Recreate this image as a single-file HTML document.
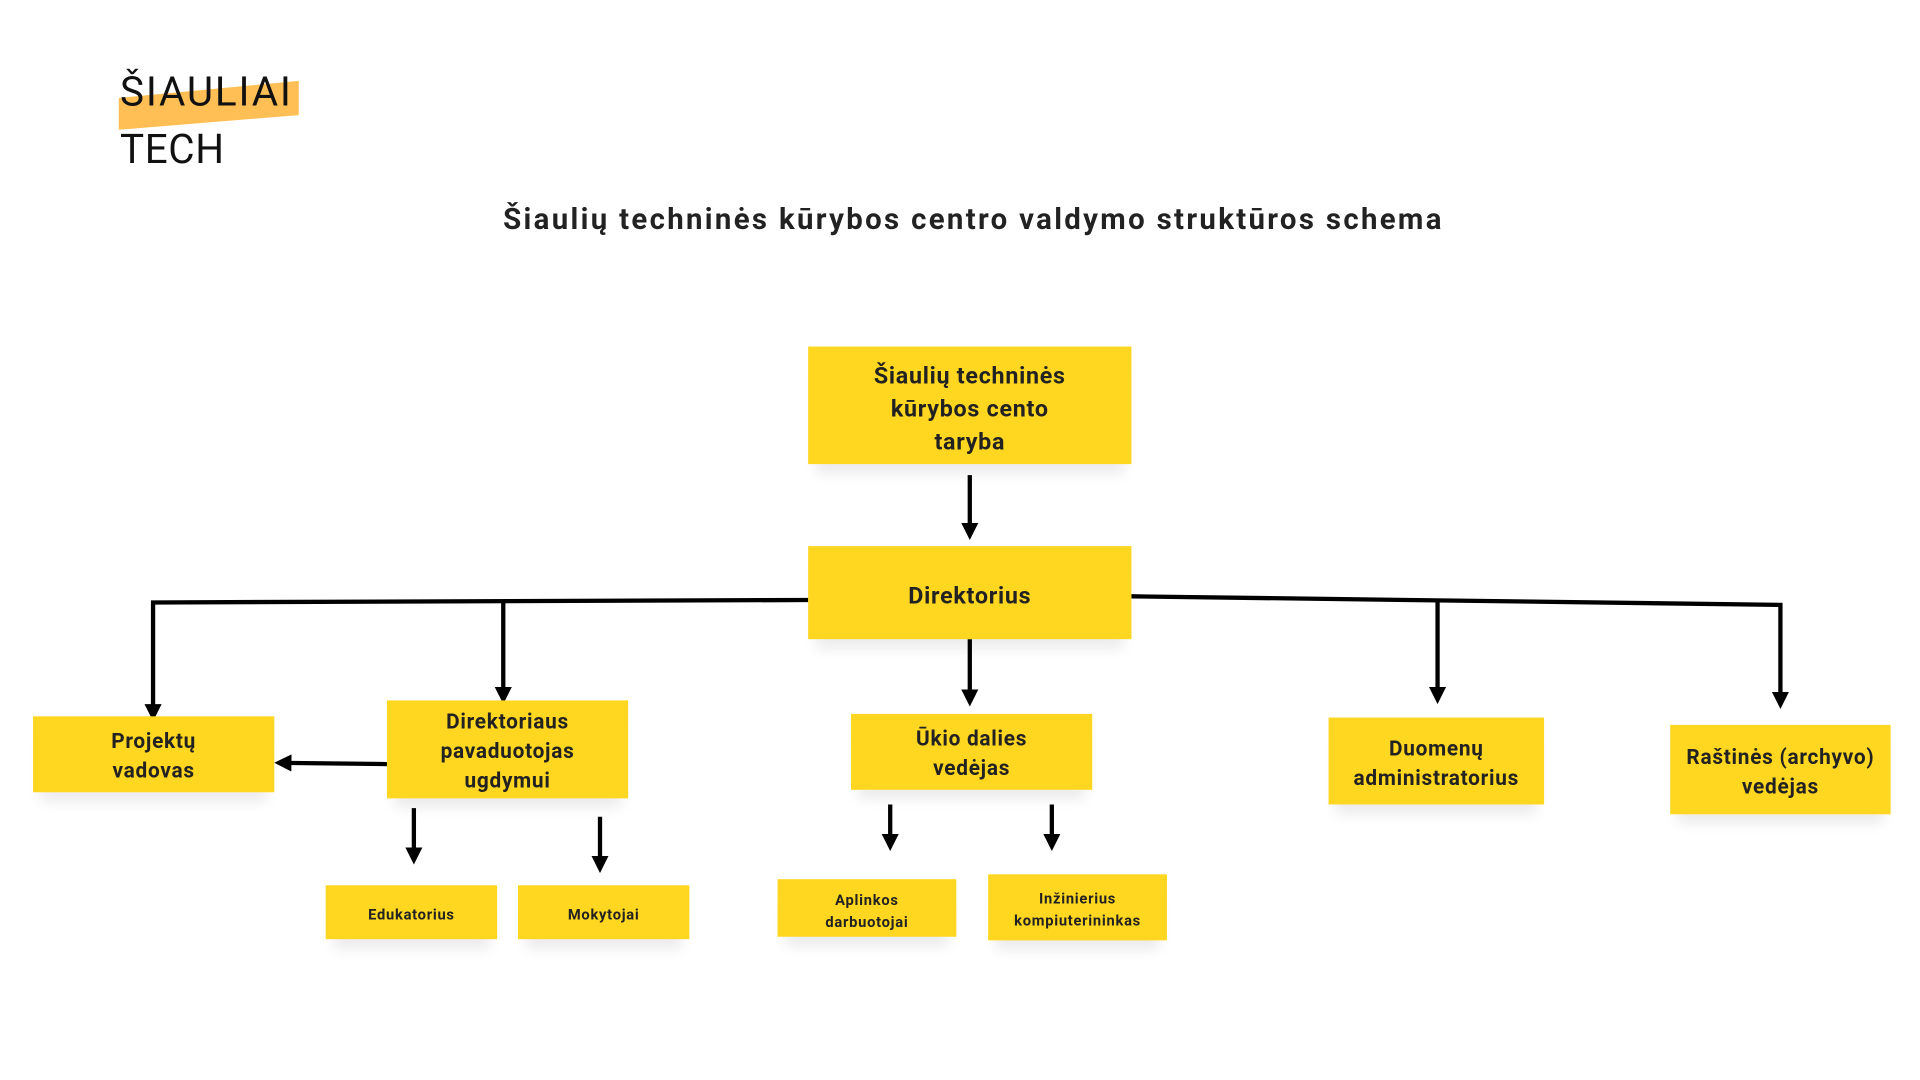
<!DOCTYPE html>
<html><head><meta charset="utf-8"><style>
html,body{margin:0;padding:0;background:#fff;width:1920px;height:1080px;overflow:hidden}
#w{position:absolute;left:0;top:0;width:1568px;height:882px;transform:scale(1.22449);transform-origin:0 0;font-family:"Roboto","Liberation Sans",sans-serif}
.b{position:absolute;background:#FFD620;display:flex;align-items:center;justify-content:center;text-align:center;font-weight:bold;color:#222;box-shadow:0 14px 10px -6px rgba(0,0,0,0.08);letter-spacing:0.6px;padding-top:4px;box-sizing:border-box}
.s{font-size:12px;line-height:18px}
.m{font-size:17px;line-height:24px}
.l{font-size:19px;line-height:27px}
</style></head><body><div id="w">
<svg width="1568" height="882" style="position:absolute;left:0;top:0">
<polygon points="97,80 244,66 244,94 97,106" fill="#FFBF55"/>
<defs><marker id="a" markerWidth="4" markerHeight="4" refX="2" refY="2" orient="auto" markerUnits="strokeWidth"><path d="M0,0 L4,2 L0,4z" fill="#000"/></marker></defs>
<g stroke="#000" stroke-width="3.5" fill="none">
<line x1="792" y1="388" x2="792" y2="434" marker-end="url(#a)"/>
<polyline points="660,490 125,492 125,582" marker-end="url(#a)"/>
<line x1="411" y1="492" x2="411" y2="568" marker-end="url(#a)"/>
<polyline points="924,487 1454,494 1454,572" marker-end="url(#a)"/>
<line x1="1174" y1="491" x2="1174" y2="568" marker-end="url(#a)"/>
<line x1="792" y1="522" x2="792" y2="570" marker-end="url(#a)"/>
<line x1="316" y1="624" x2="231" y2="623" marker-end="url(#a)"/>
<line x1="338" y1="660" x2="338" y2="699" marker-end="url(#a)"/>
<line x1="490" y1="667" x2="490" y2="706" marker-end="url(#a)"/>
<line x1="727" y1="657" x2="727" y2="688" marker-end="url(#a)"/>
<line x1="859" y1="657" x2="859" y2="688" marker-end="url(#a)"/>
</g></svg>
<div style="position:absolute;left:98px;top:56px;font-size:33px;letter-spacing:1.5px;color:#111;line-height:40px">ŠIAULIAI</div>
<div style="position:absolute;left:98px;top:103px;font-size:33px;letter-spacing:0.5px;color:#111;line-height:40px">TECH</div>
<div style="position:absolute;left:0;width:1590px;top:165px;text-align:center;font-size:24px;font-weight:bold;color:#222;letter-spacing:1.9px">Šiaulių techninės kūrybos centro valdymo struktūros schema</div>
<div class="b l" style="left:660px;top:283px;width:264px;height:96px">Šiaulių techninės<br>kūrybos cento<br>taryba</div>
<div class="b l" style="left:660px;top:446px;width:264px;height:76px">Direktorius</div>
<div class="b m" style="left:27px;top:585px;width:197px;height:62px">Projektų<br>vadovas</div>
<div class="b m" style="left:316px;top:572px;width:197px;height:80px">Direktoriaus<br>pavaduotojas<br>ugdymui</div>
<div class="b m" style="left:695px;top:583px;width:197px;height:62px">Ūkio dalies<br>vedėjas</div>
<div class="b m" style="left:1085px;top:586px;width:176px;height:71px">Duomenų<br>administratorius</div>
<div class="b m" style="left:1364px;top:592px;width:180px;height:73px">Raštinės (archyvo)<br>vedėjas</div>
<div class="b s" style="left:266px;top:723px;width:140px;height:44px">Edukatorius</div>
<div class="b s" style="left:423px;top:723px;width:140px;height:44px">Mokytojai</div>
<div class="b s" style="left:635px;top:718px;width:146px;height:47px">Aplinkos<br>darbuotojai</div>
<div class="b s" style="left:807px;top:714px;width:146px;height:54px">Inžinierius<br>kompiuterininkas</div>
</div></body></html>
